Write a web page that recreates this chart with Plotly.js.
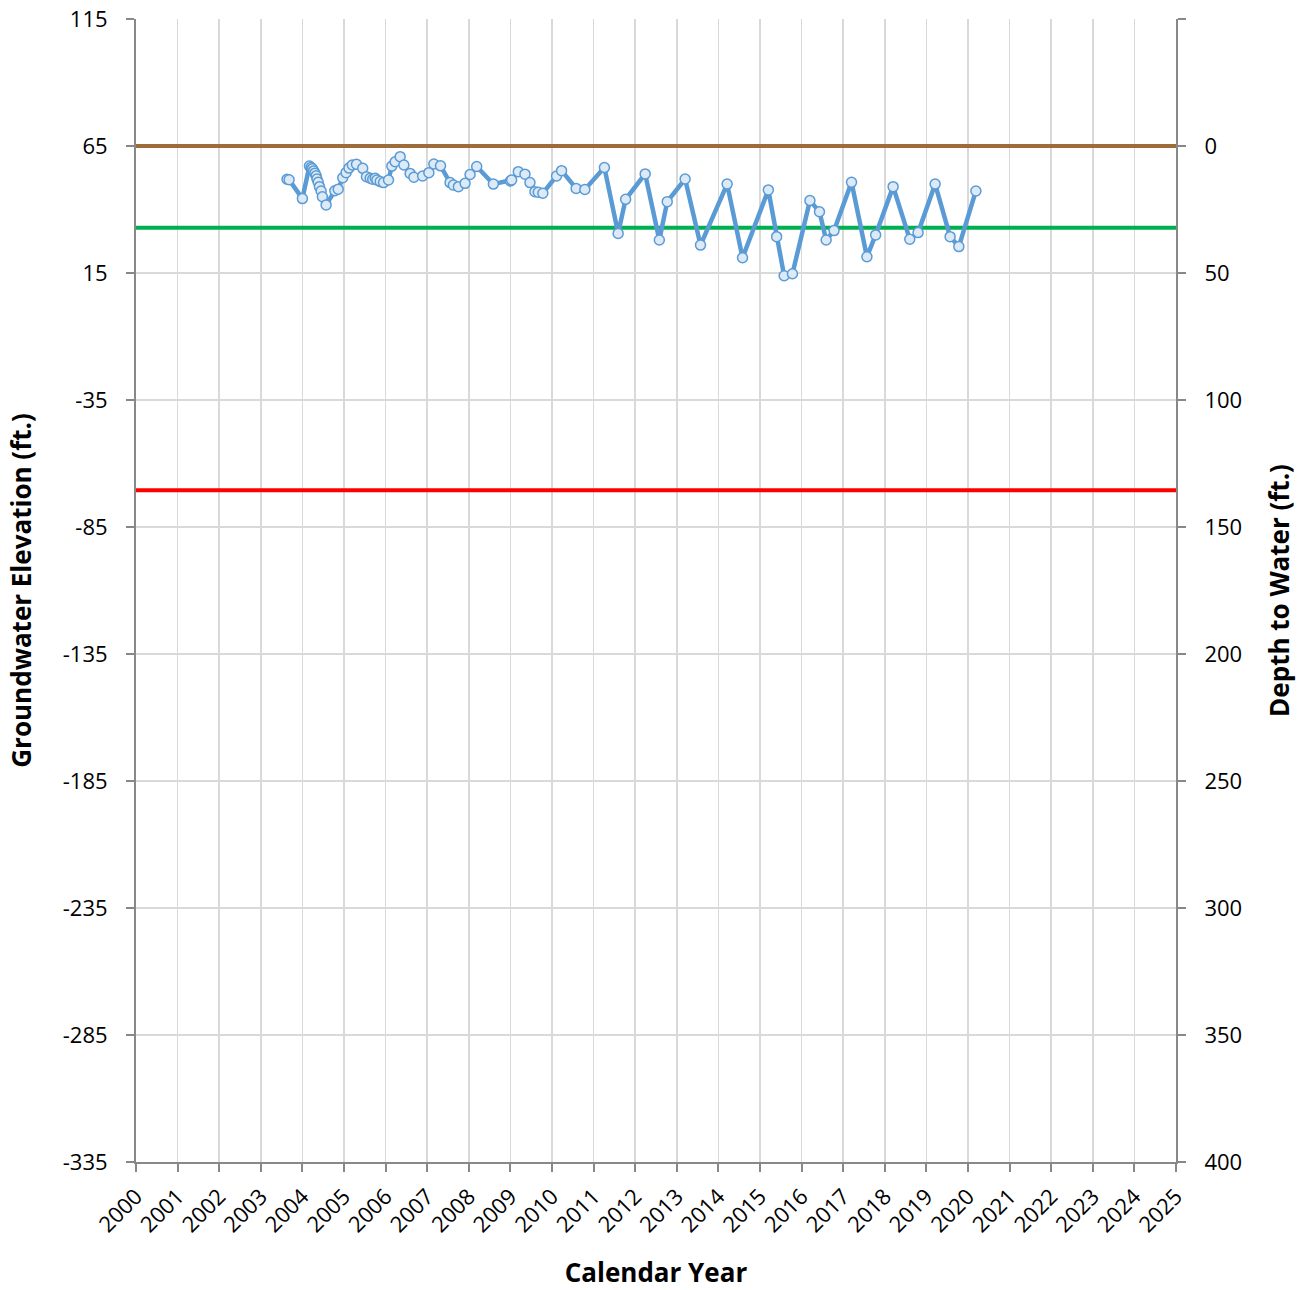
<!DOCTYPE html>
<html>
<head>
<meta charset="utf-8">
<script src="https://cdn.plot.ly/plotly-3.0.1.min.js"></script>
<style>html,body{margin:0;padding:0;background:#fff;}#chart{width:1314px;height:1290px;}</style>
</head>
<body>
<div id="chart"></div>
<script>
const years = [2003.63,2003.68,2004.00,2004.17,2004.21,2004.24,2004.27,2004.30,2004.33,2004.35,2004.38,2004.41,2004.45,2004.48,2004.57,2004.78,2004.86,2004.97,2005.05,2005.12,2005.20,2005.30,2005.45,2005.54,2005.63,2005.69,2005.75,2005.79,2005.87,2005.95,2006.07,2006.15,2006.23,2006.35,2006.44,2006.59,2006.68,2006.89,2007.04,2007.16,2007.32,2007.55,2007.63,2007.75,2007.91,2008.03,2008.19,2008.59,2009.00,2009.03,2009.19,2009.35,2009.47,2009.59,2009.67,2009.78,2010.11,2010.23,2010.58,2010.79,2011.26,2011.59,2011.77,2012.24,2012.58,2012.77,2013.20,2013.57,2014.21,2014.58,2015.20,2015.40,2015.58,2015.78,2016.20,2016.43,2016.59,2016.78,2017.20,2017.57,2017.78,2018.20,2018.60,2018.80,2019.21,2019.57,2019.78,2020.19];
const elevations = [51.9,51.7,44.3,57.1,56.5,56.0,55.2,54.3,53.3,52.0,50.7,49.0,47.3,45.0,41.8,47.4,48.0,52.5,54.5,56.3,57.5,57.8,56.2,52.9,52.3,51.9,52.3,51.6,51.0,50.6,51.6,57.1,58.8,60.8,57.5,54.2,52.7,53.2,54.5,57.9,57.2,50.6,49.6,49.0,50.3,53.8,56.9,50.0,51.2,51.6,54.9,53.9,50.6,47.0,46.8,46.4,53.2,55.3,48.3,47.9,56.5,30.6,44.0,54.0,28.0,43.1,52.0,26.0,50.0,21.0,47.7,29.3,13.9,14.7,43.5,39.1,28.0,31.7,50.7,21.4,30.0,49.0,28.3,30.9,50.0,29.3,25.4,47.3];
const landSurface = 65;
const greenLevel = 32.8;
const redLevel = -70.5;
const xRange = [2000, 2025];
const leftRange = [-335, 115];
const leftTicks = [115, 65, 15, -35, -85, -135, -185, -235, -285, -335];
const leftTickText = ['115', '65', '15', '-35', '-85', '-135', '-185', '-235', '-285', '-335'];
const rightRange = [400, -50];
const rightTicks = [-50, 0, 50, 100, 150, 200, 250, 300, 350, 400];
const rightTickText = ['', '0', '50', '100', '150', '200', '250', '300', '350', '400'];
const yearTicks = [];
for (let y = 2000; y <= 2025; y++) yearTicks.push(y);

const font = '"Open Sans", "Noto Sans", sans-serif';

const traces = [
  {x: xRange, y: [landSurface, landSurface], mode: 'lines', line: {color: '#9e6b3b', width: 4}, hoverinfo: 'skip'},
  {x: xRange, y: [greenLevel, greenLevel], mode: 'lines', line: {color: '#00b050', width: 4}, hoverinfo: 'skip'},
  {x: xRange, y: [redLevel, redLevel], mode: 'lines', line: {color: '#ff0000', width: 4}, hoverinfo: 'skip'},
  {x: years, y: elevations, mode: 'lines+markers',
   line: {color: '#5b9bd5', width: 4.5},
   marker: {size: 10, color: '#dce9f6', line: {color: '#5b9bd5', width: 1.5}}},
  {x: [xRange[0]], y: [0], yaxis: 'y2', mode: 'markers', marker: {opacity: 0}, hoverinfo: 'skip'}
];

const layout = {
  width: 1314, height: 1290,
  margin: {l: 136, r: 138, t: 19, b: 128},
  showlegend: false,
  paper_bgcolor: '#fff', plot_bgcolor: '#fff',
  font: {family: font, size: 22, color: '#000'},
  xaxis: {
    range: xRange, tickvals: yearTicks, tickangle: -45,
    ticks: 'outside', ticklen: 8, tickcolor: '#888', tickwidth: 2,
    showline: true, linecolor: '#888', linewidth: 2,
    showgrid: true, gridcolor: '#d9d9d9', gridwidth: 1.5, zeroline: false,
    tickfont: {family: font, size: 22},
    ticklabelstandoff: 3,
    title: {text: '<b>Calendar Year</b>', font: {family: font, size: 26}, standoff: 27}
  },
  yaxis: {
    range: leftRange, tickvals: leftTicks, ticktext: leftTickText,
    ticks: 'outside', ticklen: 8, tickcolor: '#888', tickwidth: 2,
    showline: true, linecolor: '#888', linewidth: 2,
    showgrid: true, gridcolor: '#d9d9d9', gridwidth: 1.5, zeroline: false,
    tickfont: {family: font, size: 22},
    ticklabelstandoff: 14,
    title: {text: '<b>Groundwater Elevation (ft.)</b>', font: {family: font, size: 26}, standoff: 24}
  },
  yaxis2: {
    overlaying: 'y', side: 'right', range: rightRange,
    tickvals: rightTicks, ticktext: rightTickText,
    ticks: 'outside', ticklen: 8, tickcolor: '#888', tickwidth: 2,
    showline: true, linecolor: '#888', linewidth: 2,
    showgrid: false, zeroline: false,
    tickfont: {family: font, size: 22},
    ticklabelstandoff: 14,
    title: {text: '<b>Depth to Water (ft.)</b>', font: {family: font, size: 26}, standoff: 30}
  }
};

Plotly.newPlot('chart', traces, layout, {displayModeBar: false, staticPlot: true});
</script>
</body>
</html>
